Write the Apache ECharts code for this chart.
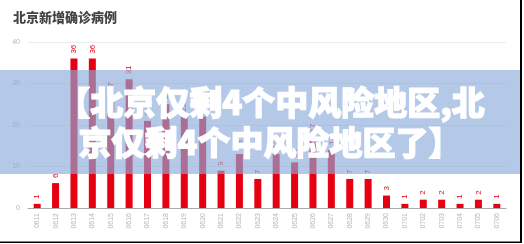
<!DOCTYPE html>
<html>
<head>
<meta charset="utf-8">
<script src="https://cdn.jsdelivr.net/npm/echarts@6/dist/echarts.min.js"></script>
<style>
  html, body { margin: 0; padding: 0; background: #fff; }
  #chart { width: 524px; height: 244px; }
</style>
</head>
<body>
<div id="chart"></div>
<script>
const days = ['0611', '0612', '0613', '0614', '0615', '0616', '0617', '0618', '0619', '0620',
  '0621', '0622', '0623', '0624', '0625', '0626', '0627', '0628', '0629', '0630',
  '0701', '0702', '0703', '0704', '0705', '0706'];
const newCases = [1, 6, 36, 36, 27, 31, 21, 25, 22, 22, 9, 13, 7, 13, 11, 17, 14, 7, 7, 3, 1, 2, 2, 1, 2, 1];
const yTicks = { min: 0, max: 40, interval: 10 };
const titleText = '北京新增确诊病例';
const bannerLines = ['【北京仅剩4个中风险地区,北', '京仅剩4个中风险地区了】'];

const chart = echarts.init(document.getElementById('chart'));

const bannerFont = '900 33px "Noto Sans CJK SC"';

const option = {
  animation: false,
  title: {
    text: titleText,
    left: 8,
    top: 6,
    textStyle: { fontSize: 13, fontWeight: 900, color: '#444', fontFamily: 'Noto Sans CJK SC' }
  },
  grid: { left: 28, right: 18, top: 42, bottom: 36 },
  xAxis: {
    type: 'category',
    data: days,
    axisTick: { show: false },
    axisLine: { lineStyle: { color: '#aaa' } },
    axisLabel: { rotate: 90, fontSize: 7, color: '#b5b5b5', margin: 5, interval: 0 }
  },
  yAxis: {
    type: 'value',
    min: yTicks.min,
    max: yTicks.max,
    interval: yTicks.interval,
    axisLine: { show: false },
    axisTick: { show: false },
    axisLabel: { fontSize: 7, color: '#b5b5b5', margin: 8 },
    splitLine: { lineStyle: { color: '#ececec' } }
  },
  series: [{
    type: 'bar',
    data: newCases,
    barWidth: 7,
    itemStyle: { color: '#e60012' },
    label: {
      show: true,
      position: 'top',
      rotate: 90,
      align: 'left',
      verticalAlign: 'middle',
      distance: 5,
      fontSize: 8,
      color: '#e60012'
    }
  }],
  graphic: [
    {
      type: 'rect',
      z: 100,
      shape: { x: 0, y: 70, width: 521, height: 104 },
      style: { fill: 'rgba(140,171,220,0.65)' }
    },
    {
      type: 'text',
      z: 101,
      x: 271,
      y: 102,
      style: {
        text: bannerLines[0],
        fill: '#fff',
        stroke: '#fff',
        lineWidth: 1.2,
        font: bannerFont,
        textAlign: 'center',
        textVerticalAlign: 'middle'
      }
    },
    {
      type: 'text',
      z: 101,
      x: 270,
      y: 142,
      style: {
        text: bannerLines[1],
        fill: '#fff',
        stroke: '#fff',
        lineWidth: 1.2,
        font: bannerFont,
        textAlign: 'center',
        textVerticalAlign: 'middle'
      }
    },
    {
      type: 'rect',
      z: 102,
      shape: { x: 520, y: 0, width: 2, height: 243 },
      style: { fill: '#000' }
    },
    {
      type: 'rect',
      z: 102,
      shape: { x: 0, y: 241.5, width: 522, height: 1.5 },
      style: { fill: '#000' }
    }
  ]
};

chart.setOption(option);
</script>
</body>
</html>
